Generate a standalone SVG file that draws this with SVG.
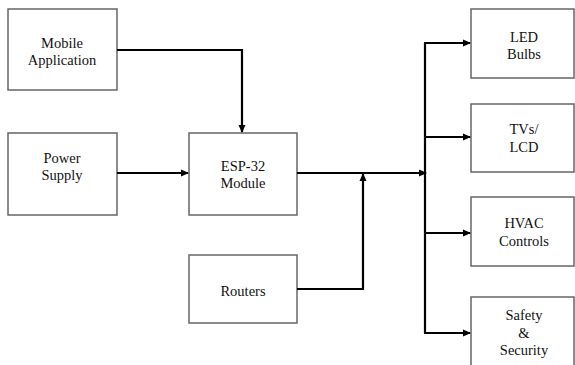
<svg xmlns="http://www.w3.org/2000/svg" width="575" height="365" viewBox="0 0 575 365">
<style>
.box{fill:#fff;stroke:#666;stroke-width:1.5}
.t{font-family:'Liberation Serif','Times New Roman',serif;font-size:14.5px;fill:#111;text-anchor:middle;dominant-baseline:central}
.c{fill:none;stroke:#000;stroke-width:2.2}
</style>
<defs>
<marker id="ah" markerWidth="8" markerHeight="8" refX="7" refY="4" orient="auto" markerUnits="userSpaceOnUse">
<path d="M0,0.5 L8,4 L0,7.5 Z" fill="#000"/>
</marker>
</defs>
<rect width="575" height="365" fill="#fff"/>
<g id="mobile"><rect class="box" x="8" y="9" width="109" height="81"/><text class="t" x="62" y="43">Mobile</text><text class="t" x="62" y="60">Application</text></g>
<g id="power"><rect class="box" x="8" y="133" width="109" height="82"/><text class="t" x="62" y="158">Power</text><text class="t" x="62" y="175">Supply</text></g>
<g id="esp"><rect class="box" x="189" y="133" width="108" height="82"/><text class="t" x="243" y="166">ESP-32</text><text class="t" x="243" y="183">Module</text></g>
<g id="routers"><rect class="box" x="189" y="255" width="108" height="68"/><text class="t" x="243" y="291">Routers</text></g>
<g id="led"><rect class="box" x="471" y="9" width="103" height="69"/><text class="t" x="524" y="37">LED</text><text class="t" x="524" y="54">Bulbs</text></g>
<g id="tv"><rect class="box" x="471" y="104" width="103" height="68"/><text class="t" x="524" y="129">TVs/</text><text class="t" x="524" y="147">LCD</text></g>
<g id="hvac"><rect class="box" x="471" y="197" width="103" height="69"/><text class="t" x="524" y="223">HVAC</text><text class="t" x="524" y="241">Controls</text></g>
<g id="safety"><rect class="box" x="471" y="297" width="103" height="75"/><text class="t" x="524" y="315">Safety</text><text class="t" x="524" y="333">&amp;</text><text class="t" x="524" y="350">Security</text></g>
<g id="connectors">
<path class="c" d="M117,50 H242 V132" marker-end="url(#ah)"/>
<path class="c" d="M117,173 H188" marker-end="url(#ah)"/>
<path class="c" d="M297,173 H426" marker-end="url(#ah)"/>
<path class="c" d="M297,289 H363 V174" marker-end="url(#ah)"/>
<path class="c" d="M425,333 V43"/>
<path class="c" d="M424,43 H470" marker-end="url(#ah)"/>
<path class="c" d="M424,137 H470" marker-end="url(#ah)"/>
<path class="c" d="M424,233 H470" marker-end="url(#ah)"/>
<path class="c" d="M424,333 H470" marker-end="url(#ah)"/>
</g>
</svg>
